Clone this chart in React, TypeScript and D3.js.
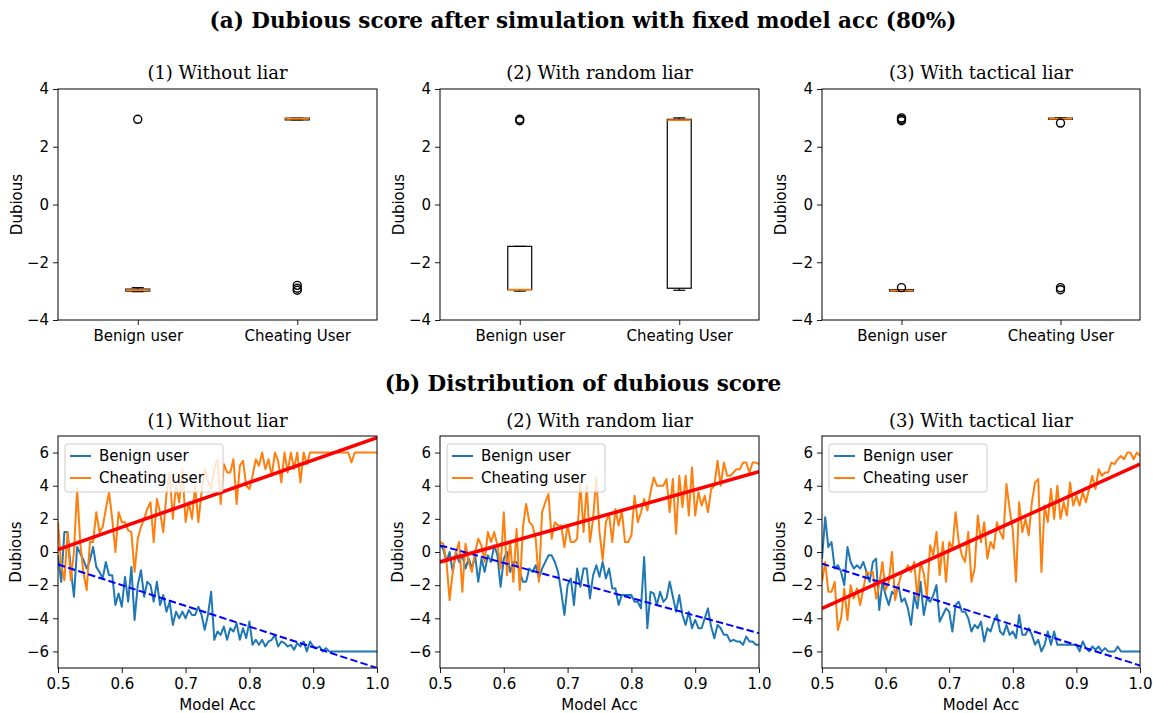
import React, { useRef, useEffect } from 'react';
import * as d3 from 'd3';

// ---- data ----
const categories = ['Benign user', 'Cheating User'];
const panelTitles = ['(1) Without liar', '(2) With random liar', '(3) With tactical liar'];

interface BoxStat {
  lo: number; q1: number; med: number; q3: number; hi: number; fliers: number[];
}

// box stats per panel: [benign, cheating]
const boxWithoutLiar: BoxStat[] = [
  { lo: -3.02, q1: -3.0, med: -2.97, q3: -2.93, hi: -2.88, fliers: [2.95] },
  { lo: 2.93, q1: 2.93, med: 2.97, q3: 2.99, hi: 2.99, fliers: [-2.8, -2.9, -2.97] },
];
const boxRandomLiar: BoxStat[] = [
  { lo: -3.0, q1: -2.95, med: -2.95, q3: -1.45, hi: -1.45, fliers: [2.9, 2.95] },
  { lo: -2.97, q1: -2.9, med: 2.92, q3: 2.95, hi: 3.0, fliers: [] },
];
const boxTacticalLiar: BoxStat[] = [
  { lo: -3.0, q1: -3.0, med: -2.98, q3: -2.95, hi: -2.95, fliers: [2.9, 2.95, 3.0, -2.88] },
  { lo: 2.95, q1: 2.95, med: 2.97, q3: 2.99, hi: 3.0, fliers: [2.82, -2.88, -2.95] },
];
const boxPanels = [boxWithoutLiar, boxRandomLiar, boxTacticalLiar];

const yTicksBox = [-4, -2, 0, 2, 4];
const xTicksAcc = [0.5, 0.6, 0.7, 0.8, 0.9, 1.0];
const yTicksAcc = [-6, -4, -2, 0, 2, 4, 6];

// model accuracy grid, 0.5 .. 1.0 step 0.005
const modelAcc = d3.range(101).map(i => 0.5 + i * 0.005);

const benign1 = [
  -0.2, -1.8, 1.2, 1.2, -1.0, -2.7, 0.3, -0.1, -0.5, -1.0,
  -0.5, 0.3, -0.9, -1.2, -1.6, -0.6, -1.4, -1.4, -3.2, -2.5,
  -3.3, -1.5, -3.0, -0.9, -4.1, -2.0, -1.1, -2.7, -1.8, -2.0,
  -3.0, -1.8, -3.2, -2.6, -3.6, -3.0, -4.4, -3.6, -4.0, -3.6,
  -4.0, -3.5, -3.8, -3.8, -3.3, -3.8, -4.7, -3.8, -2.4, -5.3,
  -4.8, -5.0, -4.5, -5.3, -4.6, -4.8, -4.3, -5.3, -4.6, -5.2,
  -4.2, -5.6, -5.3, -5.6, -5.3, -5.7, -5.4, -5.3, -5.0, -5.7,
  -5.4, -5.5, -5.7, -5.6, -5.9, -5.5, -5.7, -5.4, -6.0, -5.4,
  -5.7, -5.8, -5.7, -6.0, -5.8, -6.0, -6.0, -6.0, -6.0, -6.0,
  -6.0, -6.0, -6.0, -6.0, -6.0, -6.0, -6.0, -6.0, -6.0, -6.0,
  -6.0,
];
const cheating1 = [
  1.8, -0.8, -1.7, 1.2, -1.7, 0.0, 3.8, 0.5, -1.3, -2.3,
  0.6, 0.6, 2.4, 1.2, 1.5, 2.6, 3.6, 2.0, 0.0, 2.4,
  1.8, 1.8, 1.3, 1.2, -1.2, 0.8, 1.5, 2.0, 2.6, 3.0,
  0.6, 3.2, 2.4, 1.2, 3.5, 4.8, 2.0, 4.0, 3.0, 5.0,
  1.8, 3.0, 2.0, 4.0, 1.8, 3.6, 5.0, 4.3, 3.8, 5.0,
  5.6, 2.9, 5.3, 4.8, 4.8, 5.6, 2.9, 5.2, 5.5, 4.0,
  3.8, 4.6, 5.6, 5.2, 6.0, 5.0, 5.6, 4.6, 6.0, 5.5,
  4.2, 6.0, 4.8, 6.0, 5.0, 6.0, 4.2, 6.0, 5.3, 6.0,
  6.0, 6.0, 6.0, 6.0, 6.0, 6.0, 6.0, 6.0, 6.0, 6.0,
  6.0, 6.0, 5.4, 6.0, 6.0, 6.0, 6.0, 6.0, 6.0, 6.0,
  6.0,
];
const benign2 = [
  0.4, 0.2, -0.6, 0.0, -1.2, 0.0, -0.6, -0.2, -1.0, -0.4,
  -1.0, -0.2, -1.8, -0.4, -1.2, -0.2, -0.6, 0.4, -0.2, -2.1,
  -0.4, 0.0, -1.2, -0.6, -0.6, -1.2, -1.8, -1.8, -1.0, -1.2,
  -0.8, -1.6, -1.0, -0.6, -0.2, -0.2, -0.6, -1.2, -2.4, -3.8,
  -2.0, -1.6, -3.2, -1.0, -2.1, -1.0, -1.0, -2.8, -1.4, -0.8,
  -1.5, -0.6, -1.6, -1.0, -2.2, -2.2, -3.2, -2.6, -2.6, -2.6,
  -2.6, -3.0, -3.0, -3.4, -0.3, -4.6, -2.4, -2.5, -3.2, -2.4,
  -3.0, -2.8, -1.8, -2.7, -3.6, -2.6, -3.8, -4.4, -3.6, -4.6,
  -4.1, -4.6, -4.6, -4.0, -3.4, -4.5, -5.2, -4.4, -4.6, -5.0,
  -5.0, -5.4, -5.3, -5.4, -5.4, -5.6, -5.1, -5.4, -5.4, -5.6,
  -5.6,
];
const cheating2 = [
  0.6, 0.5, -0.5, -2.9, -1.2, 0.0, 0.6, -2.4, 0.5, -0.6,
  -1.2, 0.0, 0.8, 0.4, -0.6, 1.2, 0.6, 1.2, 0.4, -1.0,
  2.4, -1.4, 0.6, -1.8, 1.4, -2.3, 1.5, 2.9, 1.8, 1.6,
  0.8, -1.8, 2.4, 3.0, 3.5, 0.8, 1.8, 1.6, 1.6, 0.3,
  1.6, 0.6, 0.6, 0.8, 4.2, 1.2, 4.0, 0.6, 2.0, 4.5,
  1.2, -0.5, 1.8, 2.3, 0.6, 2.6, 1.6, 2.5, 0.6, 0.6,
  1.0, 3.4, 1.8, 2.4, 3.2, 2.5, 3.6, 4.5, 4.0, 4.0,
  4.0, 4.4, 2.4, 4.4, 1.1, 4.6, 2.7, 4.6, 2.2, 5.1,
  2.2, 3.6, 2.8, 3.4, 2.4, 3.8, 4.0, 5.5, 4.0, 5.4,
  4.6, 4.6, 4.8, 5.0, 5.0, 5.4, 5.4, 4.8, 5.4, 5.4,
  5.3,
];
const benign3 = [
  -0.4, 2.1, 0.3, 0.6, -1.0, -0.8, -1.2, -2.0, 0.3, -0.6,
  -1.0, -0.8, -1.0, -0.6, -1.2, -1.8, -0.6, -0.4, -3.5, -1.8,
  -2.6, -3.2, -2.4, -2.6, -2.0, -3.0, -2.8, -3.4, -4.4, -2.6,
  -3.4, -1.8, -3.8, -2.8, -3.0, -2.6, -2.0, -4.2, -3.8, -3.4,
  -3.6, -4.8, -3.2, -3.0, -3.6, -3.6, -4.0, -4.8, -4.4, -4.6,
  -4.2, -5.4, -4.6, -4.8, -4.2, -3.8, -4.8, -5.0, -4.4, -5.0,
  -4.8, -5.2, -3.8, -5.0, -5.0, -4.6, -5.0, -5.6, -5.3, -6.0,
  -5.6, -4.8, -5.6, -4.8, -5.6, -5.6, -5.6, -5.6, -5.6, -5.6,
  -5.6, -6.0, -5.4, -5.8, -6.0, -5.7, -5.9, -5.7, -6.0, -5.8,
  -6.0, -6.0, -6.0, -5.7, -6.0, -6.0, -6.0, -6.0, -6.0, -6.0,
  -6.0,
];
const cheating3 = [
  -1.8, -0.6, -2.4, -2.4, -1.8, -4.7, -4.0, -2.2, -4.1, -2.0,
  -2.8, -2.2, -3.2, -2.2, -1.2, -1.3, -1.2, -2.8, -2.0, -0.6,
  -2.3, -1.8, 0.0, -2.9, -2.0, -1.3, -1.2, -0.8, -1.2, -0.6,
  -2.8, -0.6, -1.3, -2.7, 0.4, -0.2, 1.2, -1.4, 0.6, -1.8,
  0.6, 0.2, 2.4, 0.6, -0.2, -0.6, 1.2, -1.8, -1.0, 2.2,
  0.6, 1.8, -0.4, 0.6, 0.2, 1.8, 1.2, 0.8, 4.1, 2.6,
  1.3, -1.8, 3.0, 1.2, 2.0, 1.0, 3.0, 4.2, 4.4, -1.2,
  2.8, 1.8, 3.8, 2.0, 4.0, 2.0, 3.0, 2.2, 4.2, 2.8,
  3.4, 2.8, 3.6, 3.0, 3.8, 4.6, 3.8, 5.0, 4.6, 4.8,
  4.8, 5.4, 5.3, 5.6, 5.8, 5.6, 6.0, 6.0, 5.6, 6.0,
  5.8,
];
const benignSeries = [benign1, benign2, benign3];
const cheatingSeries = [cheating1, cheating2, cheating3];

// fitted trend lines: value at acc 0.5 and at acc 1.0
const cheatingFit = [[0.15, 6.9], [-0.6, 4.85], [-3.4, 5.3]];
const benignFit = [[-0.75, -7.0], [0.4, -4.9], [-0.7, -6.85]];

const BLUE = '#1f77b4';
const ORANGE = '#ff7f0e';
const TICK_FONT = 'DejaVu Sans, sans-serif';
const TITLE_FONT = 'DejaVu Serif, serif';
const TICK_SIZE = '15px';

const App: React.FC = () => {
  const svgRef = useRef<SVGSVGElement | null>(null);

  useEffect(() => {
    if (!svgRef.current) return;
    const svg = d3.select(svgRef.current);
    svg.selectAll('*').remove();

    const width = 1153;
    const height = 713;
    svg.attr('width', width).attr('height', height);
    svg.append('rect').attr('width', width).attr('height', height).attr('fill', 'white');

    const panelX = [[58, 377], [440, 759], [822, 1140]];
    const topY = [89, 320];
    const botY = [436, 668];

    // main titles
    svg.append('text')
      .attr('x', 583).attr('y', 28)
      .attr('text-anchor', 'middle')
      .attr('font-family', TITLE_FONT).attr('font-weight', 'bold').attr('font-size', '21.5px')
      .text('(a) Dubious score after simulation with fixed model acc (80%)');

    svg.append('text')
      .attr('x', 583).attr('y', 391)
      .attr('text-anchor', 'middle')
      .attr('font-family', TITLE_FONT).attr('font-weight', 'bold').attr('font-size', '21.5px')
      .text('(b) Distribution of dubious score');

    const styleAxis = (sel: d3.Selection<SVGGElement, unknown, null, undefined>) => {
      sel.select('.domain').remove();
      sel.selectAll('.tick line').attr('stroke', 'black').attr('stroke-width', 0.9);
      sel.selectAll('.tick text')
        .attr('fill', 'black')
        .attr('font-family', TICK_FONT)
        .attr('font-size', TICK_SIZE);
    };

    const minusFmt = (d: number) => (d < 0 ? '\u2212' + Math.abs(d) : String(d));

    // ---- top row: box plots ----
    boxPanels.forEach((boxes, p) => {
      const [x0, x1] = panelX[p];
      const g = svg.append('g');

      const x = d3.scaleLinear().domain([0.5, 2.5]).range([x0, x1]);
      const y = d3.scaleLinear().domain([-4, 4]).range([topY[1], topY[0]]);

      g.append('text')
        .attr('x', (x0 + x1) / 2).attr('y', topY[0] - 10)
        .attr('text-anchor', 'middle')
        .attr('font-family', TITLE_FONT).attr('font-size', '18px')
        .text(panelTitles[p]);

      const halfW = (x(1.075) - x(1));
      boxes.forEach((b, i) => {
        const cx = x(i + 1);
        // whiskers
        g.append('line').attr('x1', cx).attr('x2', cx).attr('y1', y(b.q1)).attr('y2', y(b.lo))
          .attr('stroke', 'black').attr('stroke-width', 1.2);
        g.append('line').attr('x1', cx).attr('x2', cx).attr('y1', y(b.q3)).attr('y2', y(b.hi))
          .attr('stroke', 'black').attr('stroke-width', 1.2);
        [b.lo, b.hi].forEach(v => {
          g.append('line').attr('x1', cx - halfW / 2).attr('x2', cx + halfW / 2)
            .attr('y1', y(v)).attr('y2', y(v))
            .attr('stroke', 'black').attr('stroke-width', 1.2);
        });
        // box
        g.append('rect')
          .attr('x', cx - halfW).attr('width', halfW * 2)
          .attr('y', y(b.q3)).attr('height', Math.max(0.5, y(b.q1) - y(b.q3)))
          .attr('fill', 'none').attr('stroke', 'black').attr('stroke-width', 1.2);
        // median
        g.append('line').attr('x1', cx - halfW).attr('x2', cx + halfW)
          .attr('y1', y(b.med)).attr('y2', y(b.med))
          .attr('stroke', ORANGE).attr('stroke-width', 1.8);
        // fliers
        b.fliers.forEach(v => {
          g.append('circle').attr('cx', cx).attr('cy', y(v)).attr('r', 4)
            .attr('fill', 'none').attr('stroke', 'black').attr('stroke-width', 1.4);
        });
      });

      // frame
      g.append('rect').attr('x', x0).attr('y', topY[0])
        .attr('width', x1 - x0).attr('height', topY[1] - topY[0])
        .attr('fill', 'none').attr('stroke', 'black').attr('stroke-width', 1);

      const xa = g.append('g').attr('transform', `translate(0,${topY[1]})`)
        .call(d3.axisBottom(x).tickValues([1, 2]).tickSize(5).tickPadding(5)
          .tickFormat((d) => categories[(d as number) - 1]));
      styleAxis(xa);

      const ya = g.append('g').attr('transform', `translate(${x0},0)`)
        .call(d3.axisLeft(y).tickValues(yTicksBox).tickSize(5).tickPadding(4)
          .tickFormat((d) => minusFmt(d as number)));
      styleAxis(ya);

      g.append('text')
        .attr('transform', `translate(${x0 - 36},${(topY[0] + topY[1]) / 2}) rotate(-90)`)
        .attr('text-anchor', 'middle')
        .attr('font-family', TICK_FONT).attr('font-size', TICK_SIZE)
        .text('Dubious');
    });

    // ---- bottom row: line charts ----
    benignSeries.forEach((benign, p) => {
      const [x0, x1] = panelX[p];
      const g = svg.append('g');
      const clipId = `clip-${p}`;
      svg.append('clipPath').attr('id', clipId).append('rect')
        .attr('x', x0).attr('y', botY[0]).attr('width', x1 - x0).attr('height', botY[1] - botY[0]);

      const x = d3.scaleLinear().domain([0.5, 1.0]).range([x0, x1]);
      const y = d3.scaleLinear().domain([-7, 7]).range([botY[1], botY[0]]);

      g.append('text')
        .attr('x', (x0 + x1) / 2).attr('y', botY[0] - 9)
        .attr('text-anchor', 'middle')
        .attr('font-family', TITLE_FONT).attr('font-size', '18px')
        .text(panelTitles[p]);

      const plot = g.append('g').attr('clip-path', `url(#${clipId})`);
      const line = d3.line<number>().x((_, i) => x(modelAcc[i])).y(d => y(d));

      plot.append('path').datum(benign)
        .attr('fill', 'none').attr('stroke', BLUE).attr('stroke-width', 2)
        .attr('stroke-linejoin', 'round').attr('d', line);
      plot.append('path').datum(cheatingSeries[p])
        .attr('fill', 'none').attr('stroke', ORANGE).attr('stroke-width', 2)
        .attr('stroke-linejoin', 'round').attr('d', line);

      const fitLine = d3.line<number>().x((_, i) => x(i === 0 ? 0.5 : 1.0)).y(d => y(d));
      plot.append('path').datum(benignFit[p])
        .attr('fill', 'none').attr('stroke', 'blue').attr('stroke-width', 2)
        .attr('stroke-dasharray', '7.4,3.2').attr('d', fitLine);
      plot.append('path').datum(cheatingFit[p])
        .attr('fill', 'none').attr('stroke', 'red').attr('stroke-width', 3.5)
        .attr('d', fitLine);

      // legend
      const lg = g.append('g').attr('transform', `translate(${x0 + 7},${botY[0] + 8})`);
      lg.append('rect').attr('width', 158).attr('height', 48).attr('rx', 3)
        .attr('fill', 'white').attr('fill-opacity', 0.8)
        .attr('stroke', '#cccccc').attr('stroke-width', 1);
      [['Benign user', BLUE], ['Cheating user', ORANGE]].forEach(([label, color], i) => {
        const ly = 12 + i * 22;
        lg.append('line').attr('x1', 5).attr('x2', 26).attr('y1', ly).attr('y2', ly)
          .attr('stroke', color).attr('stroke-width', 2);
        lg.append('text').attr('x', 34).attr('y', ly + 5)
          .attr('font-family', TICK_FONT).attr('font-size', TICK_SIZE)
          .text(label);
      });

      // frame
      g.append('rect').attr('x', x0).attr('y', botY[0])
        .attr('width', x1 - x0).attr('height', botY[1] - botY[0])
        .attr('fill', 'none').attr('stroke', 'black').attr('stroke-width', 1);

      const xa = g.append('g').attr('transform', `translate(0,${botY[1]})`)
        .call(d3.axisBottom(x).tickValues(xTicksAcc).tickSize(5).tickPadding(5)
          .tickFormat(d3.format('.1f')));
      styleAxis(xa);

      const ya = g.append('g').attr('transform', `translate(${x0},0)`)
        .call(d3.axisLeft(y).tickValues(yTicksAcc).tickSize(5).tickPadding(4)
          .tickFormat((d) => minusFmt(d as number)));
      styleAxis(ya);

      g.append('text')
        .attr('transform', `translate(${x0 - 37},${(botY[0] + botY[1]) / 2}) rotate(-90)`)
        .attr('text-anchor', 'middle')
        .attr('font-family', TICK_FONT).attr('font-size', TICK_SIZE)
        .text('Dubious');

      g.append('text')
        .attr('x', (x0 + x1) / 2).attr('y', botY[1] + 42)
        .attr('text-anchor', 'middle')
        .attr('font-family', TICK_FONT).attr('font-size', TICK_SIZE)
        .text('Model Acc');
    });
  }, []);

  return (
    <svg ref={svgRef} style={{ position: 'absolute', left: 0, top: 0, display: 'block' }} />
  );
};

export default App;
